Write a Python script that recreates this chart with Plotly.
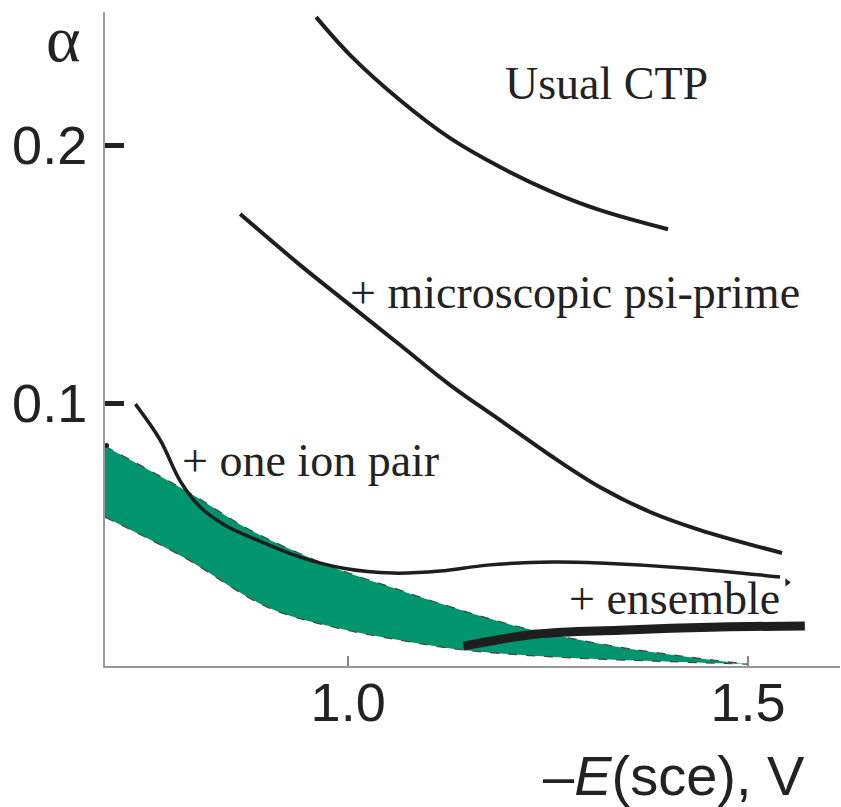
import plotly.graph_objects as go

# ---- data ----
ctp_x = [0.960, 1.0025, 1.065, 1.1275, 1.190, 1.2525, 1.315, 1.400]
ctp_y = [0.2496, 0.2349, 0.2174, 0.2027, 0.1915, 0.1822, 0.1748, 0.1674]

psi_x = [0.865, 0.940, 1.0025, 1.065, 1.1275, 1.190, 1.2525, 1.315, 1.3775, 1.440, 1.5425]
psi_y = [0.1733, 0.1535, 0.1380, 0.1225, 0.1070, 0.0934, 0.0798, 0.0674, 0.0578, 0.0508, 0.0419]

ion_x = [0.734, 0.765, 0.790, 0.815, 0.846, 0.8775, 0.940, 0.994, 1.056, 1.115, 1.174, 1.256, 1.315, 1.424, 1.540]
ion_y = [0.0996, 0.0857, 0.0698, 0.0597, 0.0527, 0.0481, 0.0403, 0.0360, 0.0341, 0.0349, 0.0372, 0.0384, 0.0380, 0.0360, 0.0326]
ion_end_x = [1.549]
ion_end_y = [0.0305]

ens_x = [1.144, 1.236, 1.340, 1.465, 1.571]
ens_y = [0.0058, 0.0105, 0.0120, 0.0132, 0.0136]

band_upper_x = [0.696, 0.8025, 0.8775, 0.981, 1.065, 1.090, 1.215, 1.340, 1.499]
band_upper_y = [0.0833, 0.0651, 0.0508, 0.0364, 0.0275, 0.0248, 0.0132, 0.0054, -0.0012]
band_lower_x = [0.696, 0.794, 0.899, 0.981, 1.065, 1.144, 1.256, 1.381, 1.499]
band_lower_y = [0.0558, 0.0403, 0.0209, 0.0132, 0.0081, 0.0043, 0.0016, 0.0000, -0.0012]
band_corner_x = [0.698]
band_corner_y = [0.0836]

x_ticks = [1.0, 1.5]
x_tick_text = ["1.0", "1.5"]
y_ticks = [0.1, 0.2]
y_tick_text = ["0.1", "0.2"]

labels = ["Usual CTP", "+ microscopic psi-prime", "+ one ion pair", "+ ensemble"]
label_x = [1.194, 1.000, 0.790, 1.274]
label_y = [0.224, 0.1430, 0.0779, 0.0244]

GREEN = "#00956e"
INK = "#1e1e1e"

fig = go.Figure()

# green band: lower edge, then upper edge filled down to it
fig.add_trace(go.Scatter(x=band_lower_x, y=band_lower_y, mode="lines",
                         line=dict(color="#444444", width=1.2, dash="dash", shape="spline"),
                         showlegend=False, hoverinfo="skip"))
fig.add_trace(go.Scatter(x=band_upper_x, y=band_upper_y, mode="lines",
                         fill="tonexty", fillcolor=GREEN,
                         line=dict(color="#444444", width=1.2, dash="dash", shape="spline"),
                         showlegend=False, hoverinfo="skip"))
fig.add_trace(go.Scatter(x=band_corner_x, y=band_corner_y, mode="markers",
                         marker=dict(size=5, color=INK), showlegend=False, hoverinfo="skip"))

fig.add_trace(go.Scatter(x=ctp_x, y=ctp_y, mode="lines",
                         line=dict(color=INK, width=4, shape="spline"), showlegend=False))
fig.add_trace(go.Scatter(x=psi_x, y=psi_y, mode="lines",
                         line=dict(color=INK, width=4, shape="spline"), showlegend=False))
fig.add_trace(go.Scatter(x=ion_x, y=ion_y, mode="lines",
                         line=dict(color=INK, width=3.5, shape="spline"), showlegend=False))
fig.add_trace(go.Scatter(x=ion_end_x, y=ion_end_y, mode="markers",
                         marker=dict(symbol="triangle-right", size=7, color=INK), showlegend=False))
fig.add_trace(go.Scatter(x=ens_x, y=ens_y, mode="lines",
                         line=dict(color=INK, width=9, shape="spline"), showlegend=False))

annotations = []
for t, ax_, ay_ in zip(labels, label_x, label_y):
    annotations.append(dict(x=ax_, y=ay_, xref="x", yref="y", text=t, showarrow=False,
                            xanchor="left", yanchor="middle",
                            font=dict(family="Liberation Serif", size=46, color="#222222")))
annotations.append(dict(x=-0.0558, y=1.0183, xref="paper", yref="paper", text="α", showarrow=False,
                        xanchor="center", yanchor="top",
                        font=dict(family="Liberation Serif", size=66, color="#222222")))
annotations.append(dict(x=0.7735, y=-0.1667, xref="paper", yref="paper",
                        text="–<i>E</i>(sce), V", showarrow=False,
                        xanchor="center", yanchor="middle",
                        font=dict(family="Liberation Sans", size=56, color="#222222")))

fig.update_layout(
    width=841, height=807,
    margin=dict(l=105, r=1, t=12, b=141),
    paper_bgcolor="white", plot_bgcolor="white",
    annotations=annotations,
    xaxis=dict(range=[0.696, 1.615], tickvals=x_ticks, ticktext=x_tick_text,
               ticks="inside", ticklen=10, tickwidth=1.5, tickcolor="#888888",
               showline=True, linecolor="#999999", linewidth=2,
               showgrid=False, zeroline=False, ticklabelstandoff=-12,
               tickfont=dict(family="Liberation Sans", size=54, color="#222222")),
    yaxis=dict(range=[-0.0019, 0.2516], tickvals=y_ticks, ticktext=y_tick_text,
               ticks="inside", ticklen=19, tickwidth=5, tickcolor="#222222",
               showline=True, linecolor="#999999", linewidth=2,
               showgrid=False, zeroline=False, ticklabelstandoff=5,
               tickfont=dict(family="Liberation Sans", size=54, color="#222222")),
)

fig.write_html("out.html")
